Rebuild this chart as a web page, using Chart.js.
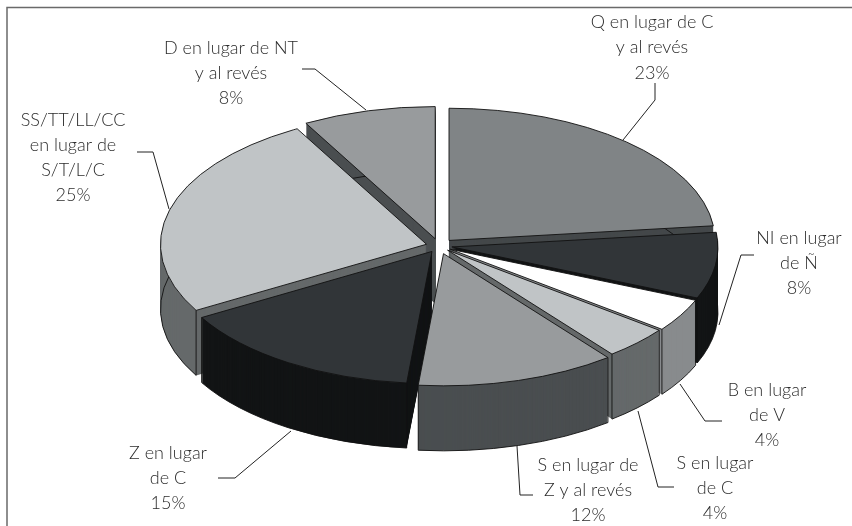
<!DOCTYPE html>
<html lang="es">
<head>
<meta charset="utf-8">
<style>html,body{margin:0;padding:0;background:#fff}#w{position:relative;width:852px;height:526px}</style>
<script src="https://cdn.jsdelivr.net/npm/chart.js@4"></script>
</head>
<body>
<div id="w"><canvas id="c" width="852" height="526"></canvas></div>
<script>
const categories = ['Q en lugar de C y al revés','NI en lugar de Ñ','B en lugar de V','S en lugar de C','S en lugar de Z y al revés','Z en lugar de C','SS/TT/LL/CC en lugar de S/T/L/C','D en lugar de NT y al revés'];
const values = [23,8,4,4,12,15,25,8];
const topColors = ['#808486','#313538','#ffffff','#c0c4c6','#989b9d','#313538','#c0c4c6','#989b9d'];
const sideColors = ['#44484a','#121415','#888b8d','#65696a','#4a4e50','#121415','#65696a','#4a4e50'];
const explode = [15,13,13,12,16,13,13,15];
const depth = 65, squash = 0.497;
const labelBlocks = [
  {x:652,y:22,lines:['Q en lugar de C','y al revés','23%'],gap:25.5},
  {x:799,y:238,lines:['NI en lugar','de Ñ','8%'],gap:25},
  {x:767,y:390,lines:['B en lugar','de V','4%'],gap:25},
  {x:715,y:463,lines:['S en lugar','de C','4%'],gap:25},
  {x:588,y:465,lines:['S en lugar de','Z y al revés','12%'],gap:25},
  {x:168,y:453,lines:['Z en lugar','de C','15%'],gap:25},
  {x:73,y:120,lines:['SS/TT/LL/CC','en lugar de','S/T/L/C','25%'],gap:25},
  {x:231,y:48,lines:['D en lugar de NT','y al revés','8%'],gap:25}
];
const leaders = [
  [[655,83],[655,100],[623,140]],
  [[754,255],[741,255],[719,325]],
  [[722,421],[705,421],[680,384]],
  [[674,487],[658,487],[638,411]],
  [[533,495],[520,495],[517,446]],
  [[218,478],[235,478],[291,431]],
  [[137,152],[153,152],[169,209]],
  [[302,69],[315,69],[366,110]]
];
const pie3d = {
  id:'pie3d',
  beforeDatasetDraw(chart){
    const ctx = chart.ctx, arcs = chart.getDatasetMeta(0).data;
    const order = arcs.map((a,i)=>{
      const mid=(a.startAngle+a.endAngle)/2;
      return {a,i,mid,sy:Math.sin(mid)*(explode[i]+a.outerRadius*0.5)};
    }).sort((p,q)=>p.sy-q.sy);
    order.forEach(({a,i,mid})=>{
      const ox=Math.cos(mid)*explode[i], oy=Math.sin(mid)*explode[i]*squash;
      const place=(dy)=>{ctx.translate(a.x+ox,a.y+oy+dy);ctx.scale(1,squash);ctx.translate(-a.x,-a.y);};
      const side=Object.create(a);
      side.options=Object.assign({},a.options,{backgroundColor:sideColors[i],borderWidth:0});
      for(let d=depth;d>=1;d--){ctx.save();place(d);side.draw(ctx);ctx.restore();}
      ctx.strokeStyle='#111';ctx.lineWidth=0.9;
      // lower rim
      ctx.save();place(depth);ctx.beginPath();ctx.arc(a.x,a.y,a.outerRadius,a.startAngle,a.endAngle);ctx.restore();
      ctx.stroke();
      // top face, then its outline at an even stroke width
      ctx.save();place(0);a.draw(ctx);ctx.beginPath();ctx.moveTo(a.x,a.y);ctx.arc(a.x,a.y,a.outerRadius,a.startAngle,a.endAngle);ctx.closePath();ctx.restore();
      ctx.stroke();
      // vertical corner edges on the visible front half
      [a.startAngle,a.endAngle].forEach(t=>{
        if(Math.sin(t)>-0.05){
          const px=a.x+ox+Math.cos(t)*a.outerRadius, py=a.y+oy+Math.sin(t)*a.outerRadius*squash;
          ctx.beginPath();ctx.moveTo(px,py);ctx.lineTo(px,py+depth);ctx.stroke();
        }
      });
    });
    return false;
  },
  afterDraw(chart){
    const ctx=chart.ctx;
    ctx.save();
    ctx.strokeStyle='#6a6a6a';ctx.lineWidth=1.5;
    ctx.beginPath();ctx.moveTo(7,526);ctx.lineTo(7,7.5);ctx.lineTo(852,7.5);ctx.stroke();
    ctx.strokeStyle='#222';ctx.lineWidth=1;
    leaders.forEach(l=>{ctx.beginPath();l.forEach((p,k)=>k?ctx.lineTo(p[0],p[1]):ctx.moveTo(p[0],p[1]));ctx.stroke();});
    ctx.fillStyle='#2c2c2c';ctx.font='300 18px Lato';ctx.textAlign='center';ctx.textBaseline='middle';
    labelBlocks.forEach(b=>b.lines.forEach((t,k)=>ctx.fillText(t,b.x,b.y+k*b.gap)));
    ctx.restore();
  }
};
new Chart(document.getElementById('c'),{
  type:'pie',
  data:{labels:categories,datasets:[{data:values,backgroundColor:topColors,borderWidth:0}]},
  options:{
    responsive:false,animation:false,radius:266,rotation:0,
    layout:{padding:{left:26,bottom:34}},
    plugins:{legend:{display:false},tooltip:{enabled:false}}
  },
  plugins:[pie3d]
});
</script>
</body>
</html>
